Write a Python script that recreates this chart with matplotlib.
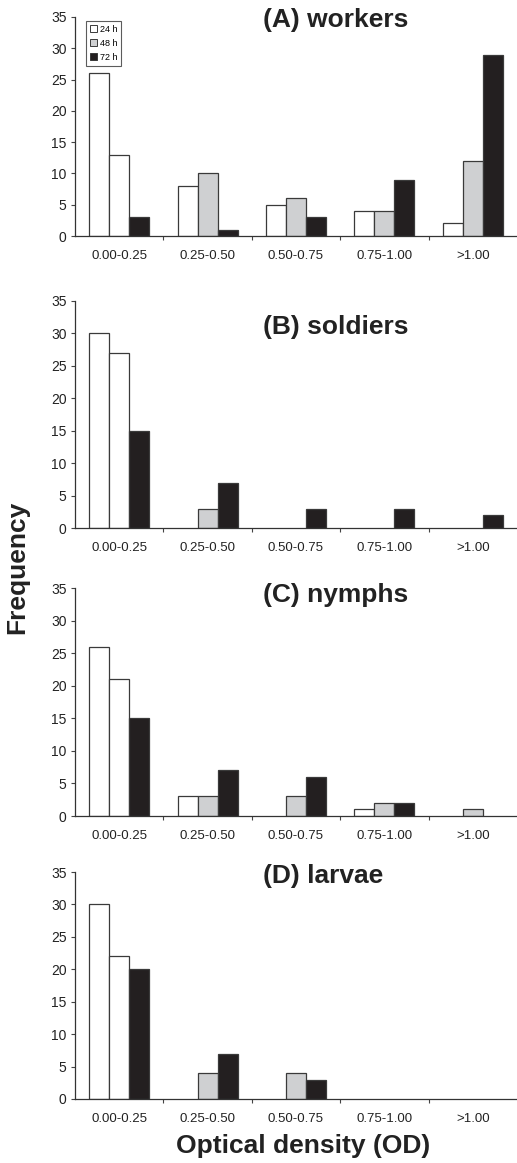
import matplotlib
matplotlib.use("Agg")
import matplotlib.pyplot as plt
import numpy as np
from matplotlib.patches import Patch

plt.rcParams['font.family'] = ['Liberation Sans', 'DejaVu Sans']

categories = ["0.00-0.25", "0.25-0.50", "0.50-0.75", "0.75-1.00", ">1.00"]
series_labels = ["24 h", "48 h", "72 h"]
panel_titles = ["(A) workers", "(B) soldiers", "(C) nymphs", "(D) larvae"]

workers_24 = [26, 8, 5, 4, 2]
workers_48 = [13, 10, 6, 4, 12]
workers_72 = [3, 1, 3, 9, 29]

soldiers_24 = [30, 0, 0, 0, 0]
soldiers_48 = [27, 3, 0, 0, 0]
soldiers_72 = [15, 7, 3, 3, 2]

nymphs_24 = [26, 3, 0, 1, 0]
nymphs_48 = [21, 3, 3, 2, 1]
nymphs_72 = [15, 7, 6, 2, 0]

larvae_24 = [30, 0, 0, 0, 0]
larvae_48 = [22, 4, 4, 0, 0]
larvae_72 = [20, 7, 3, 0, 0]

yticks = [0, 5, 10, 15, 20, 25, 30, 35]

panels = [
    (workers_24, workers_48, workers_72),
    (soldiers_24, soldiers_48, soldiers_72),
    (nymphs_24, nymphs_48, nymphs_72),
    (larvae_24, larvae_48, larvae_72),
]

W, H = 517, 1163
fig = plt.figure(figsize=(W / 100, H / 100), dpi=100)

# axes boxes in pixels: (top, bottom)
boxes = [(17, 236), (301, 528), (588, 816), (872, 1099)]
title_y = [0.986, 0.885, 0.969, 0.982]
left_px, right_px = 75, 517

colors = ["#ffffff", "#cfd0d2", "#231f20"]
edge = "#3a3a3a"
txt = "#222222"
bw = 0.226

for i, (vals, (top, bot)) in enumerate(zip(panels, boxes)):
    ax = fig.add_axes([left_px / W, 1 - bot / H, (right_px - left_px) / W, (bot - top) / H])
    x = np.arange(len(categories))
    for j, v in enumerate(vals):
        bars = ax.bar(x + (j - 1) * bw, v, width=bw, color=colors[j],
                      edgecolor=edge, linewidth=0.9, zorder=2)
        for b, hv in zip(bars, v):
            if hv == 0:
                b.set_visible(False)
        if j == 1:
            # in the original the 48 h bar of the first class is drawn white
            bars[0].set_facecolor("#ffffff")
    ax.set_xlim(-0.5, len(categories) - 0.5)
    ax.set_ylim(0, 35)
    ax.set_yticks(yticks)
    ax.set_yticklabels([str(t) for t in yticks], fontsize=10, color=txt)
    ax.set_xticks(x)
    ax.set_xticklabels(categories, fontsize=9.5, color=txt)
    ax.set_xticks(np.arange(0.5, len(categories) - 0.5, 1), minor=True)
    ax.tick_params(axis='x', which='major', length=0, pad=10)
    ax.tick_params(axis='x', which='minor', length=3, width=0.8, color="#444444", direction='out')
    ax.tick_params(axis='y', length=3, width=0.8, color="#444444", direction='out', pad=3)
    for s in ['top', 'right']:
        ax.spines[s].set_visible(False)
    for s in ['left', 'bottom']:
        ax.spines[s].set_color("#333333")
        ax.spines[s].set_linewidth(0.9)
    ax.text(0.425, title_y[i], panel_titles[i], transform=ax.transAxes,
            ha='left', va='center', fontsize=19, fontweight='bold', color=txt)
    if i == 0:
        handles = [Patch(facecolor=c, edgecolor=edge, linewidth=0.7) for c in colors]
        leg = ax.legend(handles, series_labels, loc='upper left',
                        bbox_to_anchor=(0.025, 0.98), fontsize=6.5,
                        frameon=True, fancybox=False, handlelength=0.8,
                        handleheight=0.8, handletextpad=0.3, borderpad=0.4,
                        labelspacing=0.55, borderaxespad=0)
        leg.get_frame().set_edgecolor("#333333")
        leg.get_frame().set_linewidth(0.8)

fig.text(17 / W, 1 - 567 / H, "Frequency", rotation=90, ha='center', va='center',
         fontsize=19, fontweight='bold', color=txt)
fig.text(303 / W, 1 - 1146 / H, "Optical density (OD)", ha='center', va='center',
         fontsize=19, fontweight='bold', color=txt)

fig.savefig("out.png", dpi=100)
